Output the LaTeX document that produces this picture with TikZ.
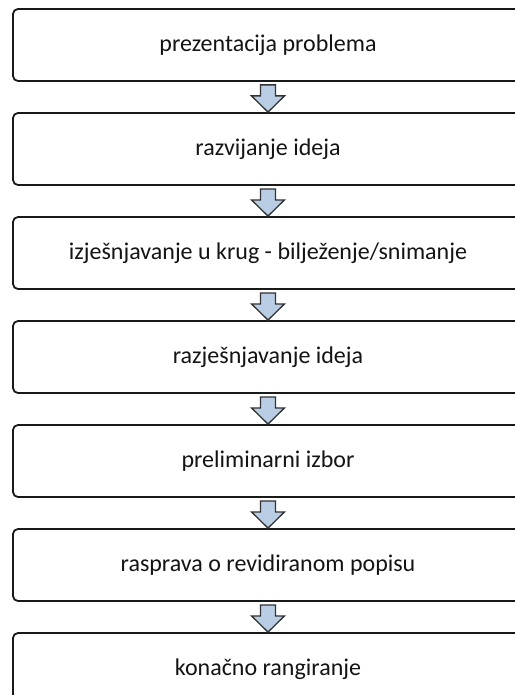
\documentclass[tikz,border=0pt]{standalone}
\usepackage{fontspec}
\setmainfont{Carlito}
\usetikzlibrary{positioning,calc}
\definecolor{arrblue}{RGB}{185,205,229}

\begin{document}
\begin{tikzpicture}[
    x=1pt, y=1pt,
    node distance=30.2pt,
    stepbox/.style={draw=black!90, line width=1.8pt, rounded corners=5pt, fill=white, minimum width=510pt, minimum height=72pt, inner sep=0pt, align=center, font=\fontsize{24}{28}\selectfont, text=black!92},
    arr/.style={draw=black!80, line width=1.3pt, fill=arrblue, line join=miter,
        to path={($(\tikztostart)+(-7.5,-3)$) -- ($(\tikztostart)+(7.5,-3)$) -- ($(\tikztostart)+(7.5,-14)$)
            -- ($(\tikztostart)+(16.5,-14)$) -- (\tikztotarget) -- ($(\tikztostart)+(-16.5,-14)$)
            -- ($(\tikztostart)+(-7.5,-14)$) -- cycle}}
]
\useasboundingbox[fill=white] (0,0) rectangle (514,-695);

% --- Steps ---
\node[stepbox] (prez) at (268,-45) {prezentacija problema};
\node[stepbox, below=of prez] (razv) {razvijanje ideja};
\node[stepbox, below=of razv] (izje) {izješnjavanje u krug - bilježenje/snimanje};
\node[stepbox, below=of izje] (razj) {razješnjavanje ideja};
\node[stepbox, below=of razj] (prel) {preliminarni izbor};
\node[stepbox, below=of prel] (rasp) {rasprava o revidiranom popisu};
\node[stepbox, below=of rasp] (kona) {konačno rangiranje};

% --- Block arrows ---
\draw[arr] (prez.south) to (razv.north); \draw[arr] (razv.south) to (izje.north);
\draw[arr] (izje.south) to (razj.north); \draw[arr] (razj.south) to (prel.north);
\draw[arr] (prel.south) to (rasp.north); \draw[arr] (rasp.south) to (kona.north);
\end{tikzpicture}
\end{document}
